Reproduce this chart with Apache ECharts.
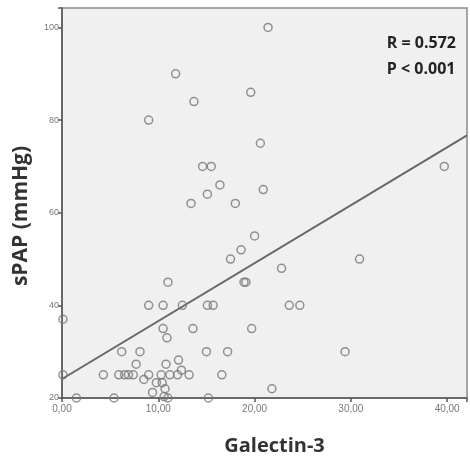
<!DOCTYPE html>
<html>
<head>
<meta charset="utf-8">
<script src="https://cdn.jsdelivr.net/npm/echarts@6/dist/echarts.min.js"></script>
<style>
  html, body { margin: 0; padding: 0; background: #fff; }
  #chart { width: 470px; height: 464px; }
</style>
</head>
<body>
<div id="chart"></div>
<script>
// Galectin-3 (x) vs sPAP in mmHg (y)
const galectin = [
  21.4, 11.8, 13.7, 19.6, 9.0, 20.6,
  14.6, 15.5, 39.7, 16.4, 15.1, 20.9, 13.4, 18.0,
  20.0, 18.6, 17.5, 30.9, 22.8, 11.0, 18.9, 19.1,
  9.0, 10.5, 12.5, 15.1, 15.7, 23.6, 24.7,
  0.1, 10.5, 10.9, 13.6, 19.7,
  6.2, 8.1, 15.0, 17.2, 29.4,
  7.7, 10.8, 12.1, 12.4,
  0.1, 4.3, 5.9, 6.5, 6.9, 7.4, 9.0, 10.3, 11.2, 12.0, 13.2, 16.6,
  8.5, 9.8, 10.4, 10.7, 21.8, 9.4,
  1.5, 5.4, 10.6, 11.0, 15.2
];
const spap = [
  100, 90, 84, 86, 80, 75,
  70, 70, 70, 66, 64, 65, 62, 62,
  55, 52, 50, 50, 48, 45, 45, 45,
  40, 40, 40, 40, 40, 40, 40,
  37, 35, 33, 35, 35,
  30, 30, 30, 30, 30,
  27.3, 27.3, 28.2, 26,
  25, 25, 25, 25, 25, 25, 25, 25, 25, 25, 25, 25,
  24, 23.3, 23.3, 22, 22, 21.2,
  20, 20, 20.3, 20, 20
];
// fitted line end points
const fitX = [0, 42.06];
const fitY = [24.1, 76.7];

const xTicks = [0, 10, 20, 30, 40];
const yTicks = [20, 40, 60, 80, 100];
const statsText = ["R = 0.572", "P < 0.001"];
const xTitle = "Galectin-3";
const yTitle = "sPAP (mmHg)";

const chart = echarts.init(document.getElementById("chart"));

chart.setOption({
  animation: false,
  grid: {
    left: 62,
    top: 8,
    right: 0,
    bottom: 66,
    show: true,
    backgroundColor: "#f0f0f0",
    borderColor: "#8a8a8a",
    borderWidth: 1.5
  },
  xAxis: {
    type: "value",
    min: 0,
    max: 42.06,
    interval: 10,
    splitLine: { show: false },
    axisLine: { onZero: false, lineStyle: { color: "#555", width: 1.5 } },
    axisTick: { length: 4, lineStyle: { color: "#555", width: 1.5 } },
    axisLabel: {
      color: "#777",
      fontSize: 10,
      margin: 6,
      fontFamily: "Liberation Sans",
      formatter: v => (xTicks.includes(v) ? v.toFixed(2).replace(".", ",") : "")
    },
    name: xTitle,
    nameLocation: "middle",
    nameGap: 38,
    nameTextStyle: {
      fontFamily: "Open Sans",
      fontWeight: "bold",
      fontSize: 20,
      color: "#333",
      padding: [0, 0, 0, 20]
    }
  },
  yAxis: {
    type: "value",
    min: 20,
    max: 104.2,
    interval: 20,
    splitLine: { show: false },
    axisLine: { onZero: false, lineStyle: { color: "#555", width: 1.5 } },
    axisTick: { length: 4, lineStyle: { color: "#555", width: 1.5 } },
    axisLabel: {
      color: "#777",
      fontSize: 9,
      margin: 3,
      fontFamily: "Liberation Sans",
      formatter: v => (yTicks.includes(v) ? String(v) : "")
    }
  },
  graphic: [
    {
      type: "text",
      x: 21,
      y: 216,
      rotation: Math.PI / 2,
      style: {
        text: yTitle,
        fontFamily: "Open Sans",
        fontWeight: "bold",
        fontSize: 21,
        fill: "#333",
        align: "center",
        verticalAlign: "middle"
      }
    },
    {
      type: "text",
      right: 14,
      top: 30,
      style: {
        text: statsText.join("\n"),
        fontFamily: "Open Sans",
        fontWeight: "bold",
        fontSize: 16,
        lineHeight: 26,
        fill: "#222",
        align: "right"
      }
    }
  ],
  series: [
    {
      type: "scatter",
      data: galectin.map((g, i) => [g, spap[i]]),
      symbol: "circle",
      symbolSize: 8,
      itemStyle: {
        color: "rgba(0,0,0,0)",
        borderColor: "#777",
        borderWidth: 1.5
      },
      z: 3
    },
    {
      type: "line",
      data: fitX.map((x, i) => [x, fitY[i]]),
      symbol: "none",
      lineStyle: { color: "#666", width: 2 },
      z: 2
    }
  ]
});
</script>
</body>
</html>
